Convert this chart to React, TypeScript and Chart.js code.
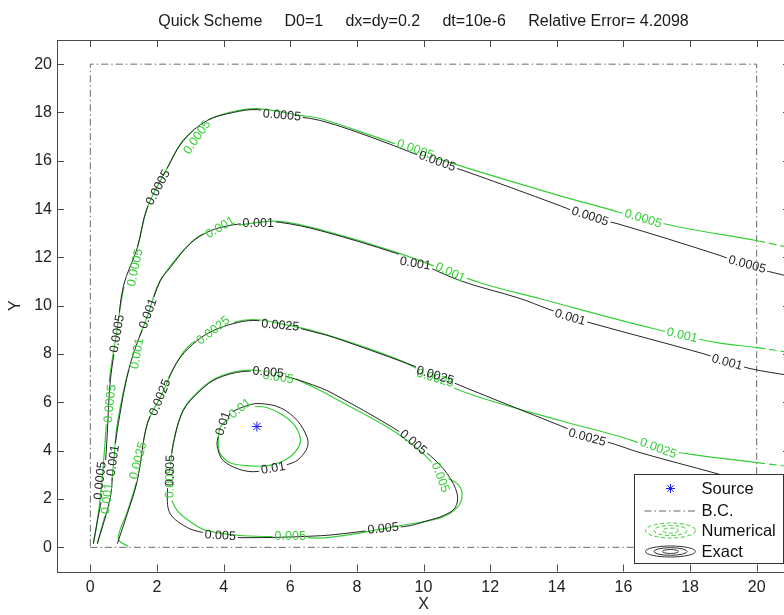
import React, { useEffect, useRef } from 'react';
import { Chart, registerables } from 'chart.js';

Chart.register(...registerables);

const FONT = "'Liberation Sans', Arial, Helvetica, sans-serif";
const GREEN = '#35cf35';
const BLACK = '#262626';

const titleText = 'Quick Scheme     D0=1     dx=dy=0.2     dt=10e-6     Relative Error= 4.2098';
const xTitle = 'X';
const yTitle = 'Y';
const xTicks = [0, 2, 4, 6, 8, 10, 12, 14, 16, 18, 20];
const yTicks = [0, 2, 4, 6, 8, 10, 12, 14, 16, 18, 20];
const levels = ['0.0005', '0.001', '0.0025', '0.005', '0.01'];
const legendNames = ['Source', 'B.C.', 'Numerical', 'Exact'];

const source: [number, number][] = [[5, 5]];
const boundary: [number, number][] = [[0, 0], [20, 0], [20, 20], [0, 20], [0, 0]];

// Exact solution contours
const exact0005: [number, number][] = [
  [0.09, 0.15], [0.2, 1.0], [0.39, 2.46], [0.5, 4.5], [0.6, 6.9], [0.8, 8.8], [0.99, 10.8], [1.41, 12.4],
  [1.71, 14.06], [2.31, 15.7], [2.79, 16.84], [3.51, 17.67], [4.29, 18.0], [5.01, 18.12], [5.76, 17.9],
  [6.9, 17.67], [8.7, 16.84], [10.41, 15.93], [11.19, 15.6], [14.1, 14.14], [15.0, 13.65], [15.81, 13.4],
  [18.9, 12.08], [19.71, 11.66], [21, 11.2],
];
const exact001: [number, number][] = [
  [0.21, 0.15], [0.6, 2.06], [0.69, 3.5], [0.84, 5.12], [1.2, 7.6], [1.74, 9.67], [2.1, 11.04], [2.4, 11.58],
  [3.0, 12.58], [3.6, 13.1], [4.3, 13.35], [5.04, 13.45], [5.7, 13.45], [6.9, 13.11], [9.21, 12.16],
  [9.75, 11.85], [11.1, 11.04], [12.9, 10.3], [13.71, 9.88], [14.4, 9.55], [15.09, 9.26], [18.39, 8.02],
  [19.11, 7.7], [19.8, 7.4], [21, 7.11],
];
const exact0025: [number, number][] = [
  [0.81, 0.15], [1.11, 1.39], [1.41, 2.76], [1.71, 5.12], [2.1, 6.2], [2.31, 6.9], [2.7, 7.86], [3.21, 8.56],
  [3.69, 8.97], [4.29, 9.26], [4.89, 9.39], [5.7, 9.25], [6.9, 8.85], [7.29, 8.7], [9.51, 7.61], [10.35, 7.15],
  [11.1, 6.7], [14.1, 5.04], [14.91, 4.6], [15.69, 4.29], [16.5, 3.92], [18.81, 3.05], [21, 2.2],
];
const exact005: [number, number][] = [
  [5.34, 7.24], [6.0, 7.03], [6.9, 6.61], [7.29, 6.36], [9.09, 4.95], [9.69, 4.34], [10.2, 3.8], [10.71, 3.05],
  [11.01, 2.22], [10.95, 1.64], [10.59, 1.31], [10.11, 1.1], [9.6, 0.9], [8.79, 0.77], [8.1, 0.65], [6.9, 0.48],
  [4.59, 0.4], [3.9, 0.48], [3.39, 0.61], [2.91, 0.82], [2.4, 1.39], [2.31, 2.22], [2.4, 3.18],
  [2.49, 4.29], [2.79, 5.66], [3.3, 6.49], [3.81, 6.99], [4.59, 7.28], [5.34, 7.24],
];
const exact01: [number, number][] = [
  [5.49, 3.26], [4.89, 3.13], [4.41, 3.26], [3.99, 3.59], [3.84, 4.0], [3.81, 4.42], [3.99, 5.12], [4.2, 5.54],
  [4.71, 5.87], [5.1, 5.95], [5.7, 5.78], [6.21, 5.25], [6.51, 4.54], [6.51, 4.13], [6.3, 3.71], [6.09, 3.51],
  [5.49, 3.26],
];

// Numerical solution contours
const num0005: [number, number][] = [
  [0.09, 0.15], [0.2, 1.0], [0.33, 2.46], [0.45, 4.5], [0.57, 6.9], [0.78, 8.8], [1.02, 10.83], [1.41, 12.4],
  [1.71, 14.06], [2.31, 15.7], [2.79, 16.84], [3.51, 17.67], [4.29, 18.04], [5.01, 18.16], [6.3, 17.88],
  [6.9, 17.75], [8.7, 16.92], [10.89, 15.88], [14.1, 14.55], [15.39, 14.06], [16.59, 13.6], [17.79, 13.23],
  [20.01, 12.69], [21, 12.4],
];
const num001: [number, number][] = [
  [0.21, 0.15], [0.57, 2.06], [0.7, 3.5], [0.81, 5.12], [1.2, 7.6], [1.74, 9.67], [2.1, 11.04], [3.0, 12.58],
  [3.6, 13.1], [5.04, 13.45], [5.7, 13.49], [6.9, 13.15], [9.21, 12.2], [11.7, 10.95], [13.5, 10.29],
  [16.8, 9.09], [18.81, 8.47], [20.01, 8.27], [21, 8.06],
];
const num0025: [number, number][] = [
  [1.14, 0.03], [0.84, 0.36], [1.11, 1.47], [1.41, 2.84], [1.71, 5.12], [2.1, 6.2], [2.7, 7.9], [3.21, 8.6],
  [4.29, 9.3], [4.89, 9.43], [5.7, 9.26], [6.9, 8.88], [9.3, 7.74], [11.1, 6.49], [14.1, 5.25], [15.81, 4.62],
  [17.04, 4.09], [18.3, 3.8], [20.01, 3.51], [21, 3.34],
];
const num005: [number, number][] = [
  [5.6, 7.18], [6.0, 7.07], [6.3, 6.89], [6.9, 6.49], [7.29, 6.2], [9.09, 4.83], [9.99, 3.88], [10.65, 2.92],
  [11.01, 2.64], [11.16, 2.22], [11.01, 1.64], [10.5, 1.22], [9.3, 0.9], [7.11, 0.4], [6.0, 0.44], [4.59, 0.48],
  [3.51, 0.69], [3.09, 0.98], [2.61, 1.52], [2.4, 2.22], [2.4, 3.18], [2.49, 4.29], [2.79, 5.7], [3.3, 6.53],
  [3.81, 7.03], [4.59, 7.32], [5.34, 7.28], [5.6, 7.18],
];
const num01: [number, number][] = [
  [4.5, 5.62], [4.2, 5.37], [3.9, 4.96], [3.84, 4.29], [3.9, 3.88], [4.2, 3.5], [4.71, 3.38], [5.31, 3.38],
  [5.91, 3.67], [6.24, 4.13], [6.3, 4.54], [6.09, 5.12], [5.7, 5.54], [5.31, 5.78], [5.01, 5.83], [4.71, 5.78],
  [4.5, 5.62],
];

// Contour labels: [text, x, y, angle in degrees]
type Lbl = [string, number, number, number];
const exactLabels: Lbl[] = [
  ['0.0005', 0.3, 2.76, -84], ['0.0005', 0.81, 8.85, -80], ['0.0005', 2.04, 14.89, -62],
  ['0.0005', 5.75, 17.88, 5], ['0.0005', 10.41, 15.97, 20], ['0.0005', 15.0, 13.69, 18], ['0.0005', 19.71, 11.7, 15],
  ['0.001', 0.69, 3.59, -82], ['0.001', 1.74, 9.67, -70], ['0.001', 5.04, 13.4, 0],
  ['0.001', 9.75, 11.74, 10], ['0.001', 14.4, 9.51, 16], ['0.001', 19.11, 7.65, 15],
  ['0.0025', 2.1, 6.2, -68], ['0.0025', 5.7, 9.18, 5], ['0.0025', 10.35, 7.11, 17], ['0.0025', 14.91, 4.54, 15],
  ['0.005', 2.4, 3.18, -88], ['0.005', 5.34, 7.24, 5], ['0.005', 9.69, 4.34, 40],
  ['0.005', 3.9, 0.48, 3], ['0.005', 8.79, 0.77, -6],
  ['0.01', 3.99, 5.12, -72], ['0.01', 5.49, 3.26, -10],
];
const numLabels: Lbl[] = [
  ['0.0005', 3.21, 16.97, -55], ['0.0005', 0.6, 5.95, -84], ['0.0005', 1.35, 11.58, -78],
  ['0.0005', 9.75, 16.46, 20], ['0.0005', 16.59, 13.6, 17],
  ['0.001', 3.9, 13.23, -30], ['0.001', 1.41, 8.02, -80], ['0.001', 0.51, 2.02, -84],
  ['0.001', 10.8, 11.37, 25], ['0.001', 17.76, 8.77, 13],
  ['0.0025', 1.44, 3.59, -75], ['0.0025', 3.69, 8.97, -38], ['0.0025', 10.35, 6.99, 17], ['0.0025', 17.04, 4.09, 20],
  ['0.005', 2.4, 2.68, -88], ['0.005', 5.64, 7.03, 8], ['0.005', 10.5, 2.89, 70], ['0.005', 6.0, 0.44, 0],
  ['0.01', 4.5, 5.74, -38],
];

const exactSets = [exact0005, exact001, exact0025, exact005, exact01];
const numSets = [num0005, num001, num0025, num005, num01];

const LABEL_SIZE = 12.5;

function labelPixel(chart: any, l: Lbl) {
  return [chart.scales.x.getPixelForValue(l[1]), chart.scales.y.getPixelForValue(l[2])];
}

const decorPlugin = {
  id: 'contourDecor',
  beforeDatasetDraw(chart: any, args: any) {
    const ds = chart.data.datasets[args.index];
    if (!ds.gapLabels) return;
    const ctx = chart.ctx;
    ctx.save();
    ctx.font = `${LABEL_SIZE}px ${FONT}`;
    ctx.beginPath();
    ctx.rect(0, 0, chart.width, chart.height);
    for (const l of ds.gapLabels as Lbl[]) {
      const [px, py] = labelPixel(chart, l);
      const w = ctx.measureText(l[0]).width / 2 + 2;
      const h = LABEL_SIZE / 2 + 1;
      const r = (l[3] * Math.PI) / 180;
      const c = Math.cos(r);
      const s = Math.sin(r);
      const pts = [[-w, -h], [w, -h], [w, h], [-w, h]].map(([u, v]) => [px + u * c - v * s, py + u * s + v * c]);
      ctx.moveTo(pts[0][0], pts[0][1]);
      for (let i = 1; i < 4; i++) ctx.lineTo(pts[i][0], pts[i][1]);
      ctx.closePath();
    }
    ctx.clip('evenodd');
  },
  afterDatasetDraw(chart: any, args: any) {
    const ds = chart.data.datasets[args.index];
    if (!ds.gapLabels) return;
    chart.ctx.restore();
  },
  afterDatasetsDraw(chart: any) {
    const ctx = chart.ctx;
    const drawSet = (labels: Lbl[], color: string) => {
      for (const l of labels) {
        const [px, py] = labelPixel(chart, l);
        ctx.save();
        ctx.translate(px, py);
        ctx.rotate((l[3] * Math.PI) / 180);
        ctx.font = `${LABEL_SIZE}px ${FONT}`;
        ctx.fillStyle = color;
        ctx.textAlign = 'center';
        ctx.textBaseline = 'middle';
        ctx.fillText(l[0], 0, 0);
        ctx.restore();
      }
    };
    drawSet(numLabels, GREEN);
    drawSet(exactLabels, BLACK);
  },
  afterDraw(chart: any) {
    const ctx = chart.ctx;
    const ca = chart.chartArea;
    const xs = chart.scales.x;
    const ys = chart.scales.y;
    ctx.save();
    ctx.strokeStyle = '#4a4a4a';
    ctx.lineWidth = 1;
    ctx.strokeRect(Math.round(ca.left) + 0.5, Math.round(ca.top) + 0.5, Math.round(ca.right - ca.left), Math.round(ca.bottom - ca.top));
    ctx.beginPath();
    const TL = 7;
    for (const v of xTicks) {
      const p = Math.round(xs.getPixelForValue(v)) + 0.5;
      ctx.moveTo(p, ca.bottom);
      ctx.lineTo(p, ca.bottom - TL);
      ctx.moveTo(p, ca.top);
      ctx.lineTo(p, ca.top + TL);
    }
    for (const v of yTicks) {
      const p = Math.round(ys.getPixelForValue(v)) + 0.5;
      ctx.moveTo(ca.left, p);
      ctx.lineTo(ca.left + TL, p);
      ctx.moveTo(ca.right, p);
      ctx.lineTo(ca.right - TL, p);
    }
    ctx.stroke();

    // legend
    const bw = 149;
    const bh = 89;
    const bx = Math.round(ca.right - 7 - bw) + 0.5;
    const by = Math.round(ca.bottom - 8.5 - bh) + 0.5;
    ctx.fillStyle = '#ffffff';
    ctx.fillRect(bx, by, bw, bh);
    ctx.strokeStyle = '#333333';
    ctx.strokeRect(bx, by, bw, bh);
    const rowsY = [14, 36, 56, 77].map((d) => by + d);
    const ix = bx + 36;
    ctx.strokeStyle = '#1a1aff';
    ctx.lineWidth = 1;
    ctx.beginPath();
    for (let k = 0; k < 4; k++) {
      const a = (k * Math.PI) / 4;
      ctx.moveTo(ix - 4.5 * Math.cos(a), rowsY[0] - 4.5 * Math.sin(a));
      ctx.lineTo(ix + 4.5 * Math.cos(a), rowsY[0] + 4.5 * Math.sin(a));
    }
    ctx.stroke();
    ctx.strokeStyle = '#666666';
    ctx.setLineDash([7, 3, 1.5, 3]);
    ctx.beginPath();
    ctx.moveTo(ix - 26, rowsY[1] + 0.5);
    ctx.lineTo(ix + 26, rowsY[1] + 0.5);
    ctx.stroke();
    ctx.strokeStyle = GREEN;
    ctx.setLineDash([4, 2.5]);
    for (const [rx, ry] of [[25, 7.5], [16.5, 5], [8, 2.5]]) {
      ctx.beginPath();
      ctx.ellipse(ix, rowsY[2], rx, ry, 0, 0, Math.PI * 2);
      ctx.stroke();
    }
    ctx.setLineDash([]);
    ctx.strokeStyle = '#333333';
    for (const [rx, ry] of [[25, 5.5], [16.5, 3.8], [8, 2]]) {
      ctx.beginPath();
      ctx.ellipse(ix, rowsY[3], rx, ry, 0, 0, Math.PI * 2);
      ctx.stroke();
    }
    ctx.fillStyle = '#111111';
    ctx.font = `16.5px ${FONT}`;
    ctx.textAlign = 'left';
    ctx.textBaseline = 'middle';
    legendNames.forEach((n, i) => ctx.fillText(n, bx + 67, rowsY[i] + 0.5));
    ctx.restore();
  },
};

export default function App() {
  const ref = useRef<HTMLCanvasElement>(null);
  useEffect(() => {
    const datasets: any[] = [
      {
        data: source,
        showLine: false,
        pointStyle: 'star',
        pointRadius: 5,
        borderColor: '#1a1aff',
        backgroundColor: '#1a1aff',
        borderWidth: 1,
      },
      ...levels.map((lv, i) => ({
        data: exactSets[i],
        showLine: true,
        borderColor: BLACK,
        borderWidth: 1,
        pointRadius: 0,
        tension: 0.35,
        gapLabels: exactLabels.filter((l) => l[0] === lv),
      })),
      ...levels.map((lv, i) => ({
        data: numSets[i],
        showLine: true,
        borderColor: GREEN,
        borderWidth: 1.2,
        pointRadius: 0,
        tension: 0.35,
        segment: { borderDash: (c: any) => (c.p0.parsed.x >= 19.99 ? [8, 4] : undefined) },
        gapLabels: numLabels.filter((l) => l[0] === lv),
      })),
      {
        data: boundary,
        showLine: true,
        borderColor: '#6a6a6a',
        borderDash: [7, 3, 1.5, 3],
        borderWidth: 1,
        pointRadius: 0,
        tension: 0,
      },
    ];
    const tickFont = { family: FONT, size: 16 };
    const chart = new Chart(ref.current as HTMLCanvasElement, {
      type: 'scatter',
      data: { datasets },
      options: {
        animation: false,
        responsive: false,
        devicePixelRatio: 1,
        events: [],
        layout: { padding: { left: 0, right: 10, top: 0, bottom: 0 } },
        plugins: {
          legend: { display: false },
          tooltip: { enabled: false },
          title: {
            display: true,
            text: titleText,
            fullSize: false,
            color: '#1a1a1a',
            font: { family: FONT, size: 16, weight: 'normal' },
            padding: { top: 11.5, bottom: 9.3 },
          },
        },
        scales: {
          x: {
            type: 'linear',
            min: -1,
            max: 21,
            afterBuildTicks: (s: any) => {
              s.ticks = xTicks.map((v) => ({ value: v }));
            },
            afterFit: (s: any) => {
              s.height = 43.5;
            },
            grid: { display: false, drawTicks: false },
            border: { display: false },
            ticks: { font: tickFont, color: '#222', padding: 6, maxRotation: 0, autoSkip: false },
            title: { display: true, text: xTitle, color: '#222', font: tickFont, padding: { top: 0, bottom: 1 } },
          },
          y: {
            type: 'linear',
            min: -1,
            max: 21,
            afterBuildTicks: (s: any) => {
              s.ticks = yTicks.map((v) => ({ value: v }));
            },
            afterFit: (s: any) => {
              s.width = 57;
            },
            grid: { display: false, drawTicks: false },
            border: { display: false },
            ticks: { font: tickFont, color: '#222', padding: 5, autoSkip: false },
            title: { display: true, text: yTitle, color: '#222', font: tickFont, padding: { top: 6, bottom: 0 } },
          },
        },
      },
      plugins: [decorPlugin],
    } as any);
    return () => chart.destroy();
  }, []);
  return (
    <div style={{ position: 'fixed', left: 0, top: 0, width: 784, height: 615, overflow: 'hidden', background: '#ffffff' }}>
      <canvas ref={ref} width={800} height={615} style={{ display: 'block', width: 800, height: 615 }} />
    </div>
  );
}
